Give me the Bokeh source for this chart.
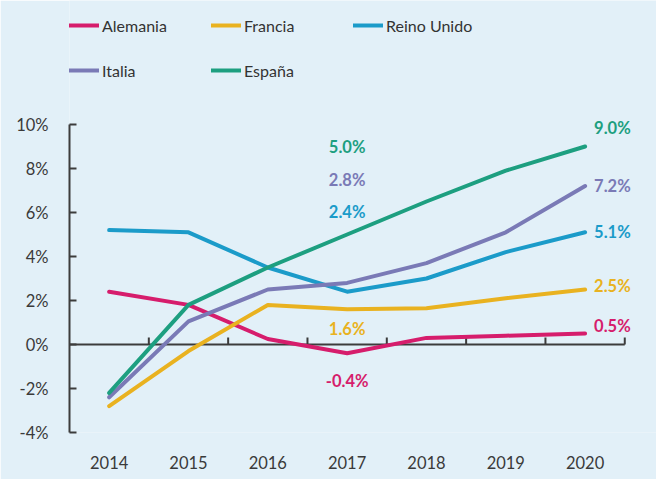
from bokeh.plotting import figure
from bokeh.models import (FixedTicker, PrintfTickFormatter, Legend, LegendItem)
from bokeh.core.properties import value
from bokeh.embed import file_html
from bokeh.resources import INLINE

years = [2014, 2015, 2016, 2017, 2018, 2019, 2020]
year_labels = ["2014", "2015", "2016", "2017", "2018", "2019", "2020"]
alemania = [2.4, 1.8, 0.25, -0.4, 0.3, 0.4, 0.5]
francia = [-2.8, -0.3, 1.8, 1.6, 1.65, 2.1, 2.5]
reino_unido = [5.2, 5.1, 3.5, 2.4, 3.0, 4.2, 5.1]
italia = [-2.4, 1.05, 2.5, 2.8, 3.7, 5.1, 7.2]
espana = [-2.2, 1.8, 3.5, 5.0, 6.5, 7.9, 9.0]
y_ticks = [-4, -2, 0, 2, 4, 6, 8, 10]

names = ["Alemania", "Francia", "Reino Unido", "Italia", "España"]
series = [alemania, francia, reino_unido, italia, espana]
colors = ["#d61d6c", "#e9b220", "#1b9bc9", "#7a7ab6", "#1d9f80"]

FONT = "Lato"
BG = "#e2f0f8"
AXIS_C = "#3c3c3c"
TXT_C = "#3a3a3a"

# frame spans the full height; the y axis line is bounded to -4..10
PX_PER_UNIT = 22.0
Y_TOP = 10 + 124 / PX_PER_UNIT
p = figure(width=656, height=479, output_backend="svg", toolbar_location=None,
           x_range=(years[0] - 0.5, years[-1] + 0.9), y_range=(-4, Y_TOP),
           min_border_left=69, min_border_right=0, min_border_top=0, min_border_bottom=47,
           background_fill_color=BG, border_fill_color=BG, outline_line_color=None)
p.grid.visible = False

# x axis (labels only at bottom)
p.xaxis.ticker = FixedTicker(ticks=years)
p.xaxis.major_label_overrides = {y: l for y, l in zip(years, year_labels)}
p.xaxis.axis_line_color = None
p.xaxis.major_tick_line_color = None
p.xaxis.minor_tick_line_color = None
p.xaxis.major_label_standoff = 17
p.xaxis.major_label_text_font = FONT
p.xaxis.major_label_text_font_size = "16.5px"
p.xaxis.major_label_text_color = TXT_C

# y axis (ticks pointing inward)
p.yaxis.ticker = FixedTicker(ticks=y_ticks)
p.yaxis.bounds = (y_ticks[0], y_ticks[-1])
p.yaxis.formatter = PrintfTickFormatter(format="%d%%")
p.yaxis.axis_line_color = AXIS_C
p.yaxis.axis_line_width = 2
p.yaxis.major_tick_line_color = AXIS_C
p.yaxis.major_tick_line_width = 2
p.yaxis.major_tick_in = 7
p.yaxis.major_tick_out = 0
p.yaxis.minor_tick_line_color = None
p.yaxis.major_label_standoff = 21
p.yaxis.major_label_text_font = FONT
p.yaxis.major_label_text_font_size = "16.5px"
p.yaxis.major_label_text_color = TXT_C

# zero axis line with category boundary ticks pointing up
tick_len = 7 / PX_PER_UNIT
p.segment(x0=[years[0] - 0.5], y0=[0], x1=[years[-1] + 0.5], y1=[0], line_color=AXIS_C, line_width=2)
bounds_x = [y + 0.5 for y in years]
p.segment(x0=bounds_x, y0=[0] * len(bounds_x), x1=bounds_x, y1=[tick_len] * len(bounds_x),
          line_color=AXIS_C, line_width=2)

renderers = []
for name, vals, c in zip(names, series, colors):
    r = p.line(years, vals, line_color=c, line_width=4, line_cap="round", line_join="round")
    renderers.append(r)

# data labels for 2017
idx17 = years.index(2017)
lab17_series = [espana, italia, reino_unido, francia, alemania]
lab17_colors = [colors[4], colors[3], colors[2], colors[1], colors[0]]
lab17_offsets = [-88, -103, -80, 20, 28]
for vals, c, off in zip(lab17_series, lab17_colors, lab17_offsets):
    v = vals[idx17]
    p.text(x=[years[idx17]], y=[v], text=["%.1f%%" % v], text_color=c,
           text_font=value(FONT), text_font_style="bold", text_font_size="16.5px",
           text_align="center", text_baseline="middle", x_offset=0, y_offset=off)

# data labels at 2020
end_offsets = [-8, -4, 0, 0, -19]
for vals, c, off in zip(series, colors, end_offsets):
    v = vals[-1]
    p.text(x=[years[-1]], y=[v], text=["%.1f%%" % v], text_color=c,
           text_font=value(FONT), text_font_style="bold", text_font_size="16.5px",
           text_align="left", text_baseline="middle", x_offset=9, y_offset=off)

legend = Legend(items=[LegendItem(label=n, renderers=[r]) for n, r in zip(names, renderers)],
                location=(0, 347), orientation="horizontal", ncols=3,
                glyph_width=30, glyph_height=30, label_width=94, label_standoff=3,
                spacing=15, padding=0, margin=0,
                background_fill_alpha=0, border_line_color=None,
                label_text_font=FONT, label_text_font_size="16px", label_text_color="#333333")
p.add_layout(legend, "center")

open("out.html", "w").write(file_html(p, INLINE))
